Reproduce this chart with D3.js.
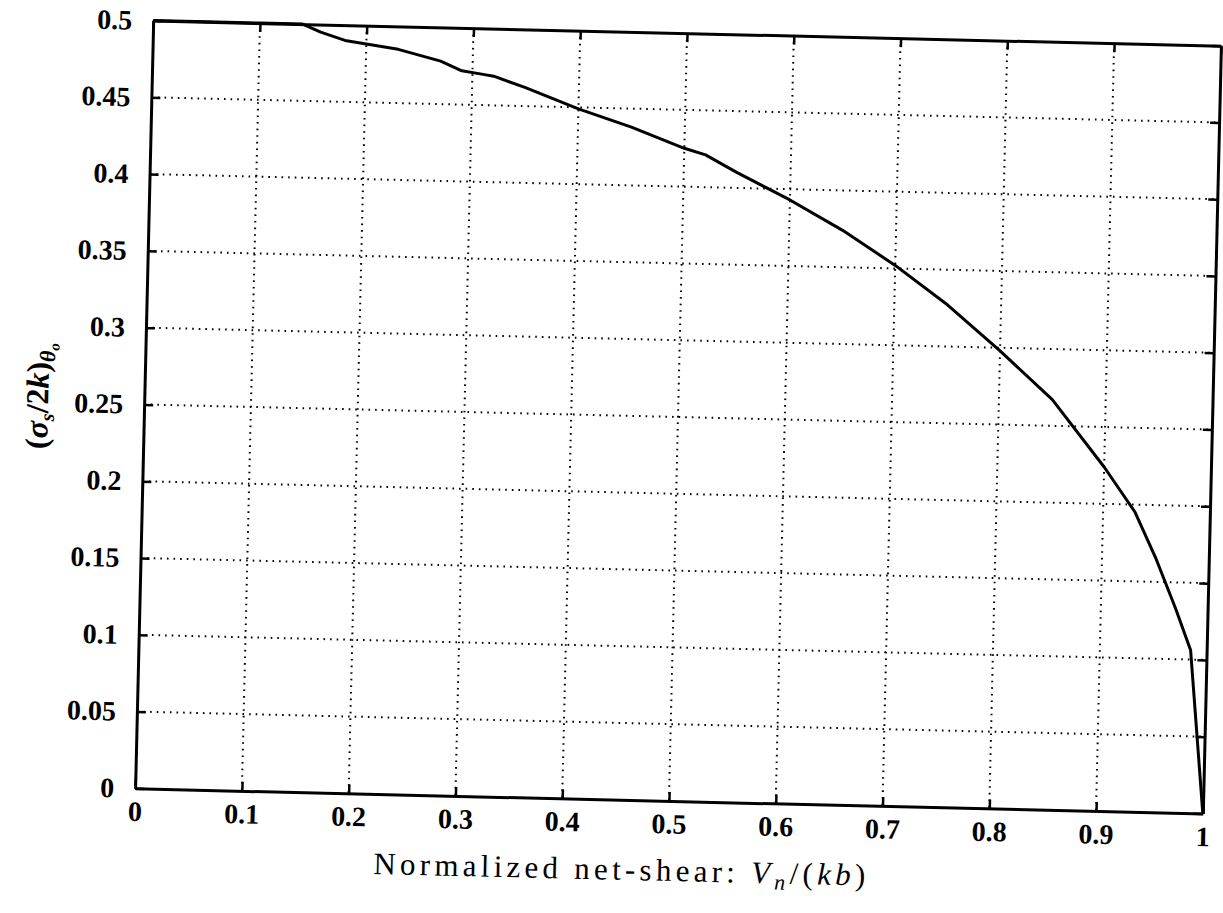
<!DOCTYPE html>
<html>
<head>
<meta charset="utf-8">
<script src="https://cdn.jsdelivr.net/npm/d3@7"></script>
<style>
  body { margin: 0; background: #fff; }
  svg { display: block; }
</style>
</head>
<body>
<div id="chart"></div>
<script>
// values
const shearVals = [0, 0.05, 0.10, 0.14, 0.157, 0.18, 0.20, 0.23, 0.27, 0.29, 0.31, 0.32, 0.35, 0.40, 0.45, 0.50, 0.52, 0.55, 0.60, 0.65, 0.70, 0.75, 0.80, 0.85, 0.90, 0.93, 0.95, 0.97, 0.985, 1.0]
const stressVals = [0.5, 0.5, 0.5, 0.5, 0.495, 0.49, 0.488, 0.485, 0.478, 0.472, 0.47, 0.469, 0.462, 0.449, 0.438, 0.425, 0.421, 0.41, 0.393, 0.374, 0.352, 0.327, 0.298, 0.267, 0.224, 0.195, 0.166, 0.133, 0.106, 0.0]

const xTicks = [0, 0.1, 0.2, 0.3, 0.4, 0.5, 0.6, 0.7, 0.8, 0.9, 1]
const xTickLabels = ['0', '0.1', '0.2', '0.3', '0.4', '0.5', '0.6', '0.7', '0.8', '0.9', '1']
const yTicks = [0, 0.05, 0.1, 0.15, 0.2, 0.25, 0.3, 0.35, 0.4, 0.45, 0.5]
const yTickLabels = ['0', '0.05', '0.1', '0.15', '0.2', '0.25', '0.3', '0.35', '0.4', '0.45', '0.5']

let width = 1223
let height = 913
let plotW = 1068
let plotH = 768

let svg = d3.select('#chart').append('svg')
  .attr('width', width)
  .attr('height', height)

svg.append('rect').attr('width', width).attr('height', height).attr('fill', '#fff')

// the scan is tilted a little, so the whole figure is turned with it
let page = svg.append('g')
  .attr('transform', 'rotate(1.35, 678, 417)')

let g = page.append('g')
  .attr('transform', 'translate(144,33)')

let xScale = d3.scaleLinear().domain([0, 1]).range([0, plotW])
let yScale = d3.scaleLinear().domain([0, 0.5]).range([plotH, 0])

const tickFont = '"Liberation Serif", "Times New Roman", serif'

// dotted grid
let grid = g.append('g')
grid.selectAll('.vgrid')
  .data(xTicks.slice(1, -1))
  .enter().append('line')
  .attr('x1', d => xScale(d)).attr('x2', d => xScale(d))
  .attr('y1', 0).attr('y2', plotH)
  .attr('stroke', '#000')
  .attr('stroke-width', 2)
  .attr('stroke-dasharray', '1.6,5')

grid.selectAll('.hgrid')
  .data(yTicks.slice(1, -1))
  .enter().append('line')
  .attr('x1', 0).attr('x2', plotW)
  .attr('y1', d => yScale(d)).attr('y2', d => yScale(d))
  .attr('stroke', '#000')
  .attr('stroke-width', 2)
  .attr('stroke-dasharray', '1.6,5')

// axes with inward ticks
let xAxis = g.append('g')
  .attr('transform', 'translate(0,' + plotH + ')')
  .call(d3.axisBottom(xScale).tickValues(xTicks).tickSizeInner(-9).tickSizeOuter(0).tickPadding(27)
    .tickFormat((d, i) => xTickLabels[i]))

let yAxis = g.append('g')
  .call(d3.axisLeft(yScale).tickValues(yTicks).tickSizeInner(-9).tickSizeOuter(0).tickPadding(21)
    .tickFormat((d, i) => yTickLabels[i]))

let topAxis = g.append('g')
  .call(d3.axisTop(xScale).tickValues(xTicks).tickSizeInner(-9).tickSizeOuter(0).tickFormat(''))

let rightAxis = g.append('g')
  .attr('transform', 'translate(' + plotW + ',0)')
  .call(d3.axisRight(yScale).tickValues(yTicks).tickSizeInner(-9).tickSizeOuter(0).tickFormat(''))

g.selectAll('.domain').attr('stroke', '#000').attr('stroke-width', 3)
g.selectAll('.tick line').attr('stroke', '#000').attr('stroke-width', 2.5)
g.selectAll('.tick text')
  .attr('fill', '#000')
  .style('font-family', tickFont)
  .style('font-weight', 'bold')
  .style('font-size', '28px')
xAxis.selectAll('.tick text').attr('dy', '0.2em')

// curve
const curveData = shearVals.map((d, i) => ({ x: d, y: stressVals[i] }))
const line = d3.line()
  .x(d => xScale(d.x))
  .y(d => yScale(d.y))

g.append('path')
  .datum(curveData)
  .attr('d', line)
  .attr('fill', 'none')
  .attr('stroke', '#000')
  .attr('stroke-width', 3)
  .attr('stroke-linejoin', 'round')

// x title
let xTitle = page.append('text')
  .attr('x', 384)
  .attr('y', 881)
  .attr('textLength', 492)
  .attr('lengthAdjust', 'spacing')
  .style('font-family', tickFont)
  .style('font-size', '31px')
  .attr('fill', '#000')
xTitle.append('tspan').text('Normalized net-shear: ')
xTitle.append('tspan').style('font-style', 'italic').text('V')
xTitle.append('tspan').style('font-style', 'italic').style('font-size', '22px').attr('dy', 6).text('n')
xTitle.append('tspan').attr('dy', -6).text('/(')
xTitle.append('tspan').style('font-style', 'italic').text('kb')
xTitle.append('tspan').text(')')

// y title
let yTitle = page.append('text')
  .attr('transform', 'translate(48,411) rotate(-90)')
  .attr('text-anchor', 'middle')
  .style('font-family', tickFont)
  .style('font-size', '32px')
  .style('font-weight', 'bold')
  .attr('fill', '#000')
yTitle.append('tspan').text('(')
yTitle.append('tspan').style('font-style', 'italic').text('σ')
yTitle.append('tspan').style('font-style', 'italic').style('font-size', '20px').attr('dy', 6).text('s')
yTitle.append('tspan').attr('dy', -6).text('/2')
yTitle.append('tspan').style('font-style', 'italic').text('k')
yTitle.append('tspan').text(')')
yTitle.append('tspan').style('font-style', 'italic').style('font-size', '22px').attr('dy', 6).text('θ')
yTitle.append('tspan').style('font-style', 'italic').style('font-size', '15px').attr('dy', 4).text('o')
</script>
</body>
</html>
